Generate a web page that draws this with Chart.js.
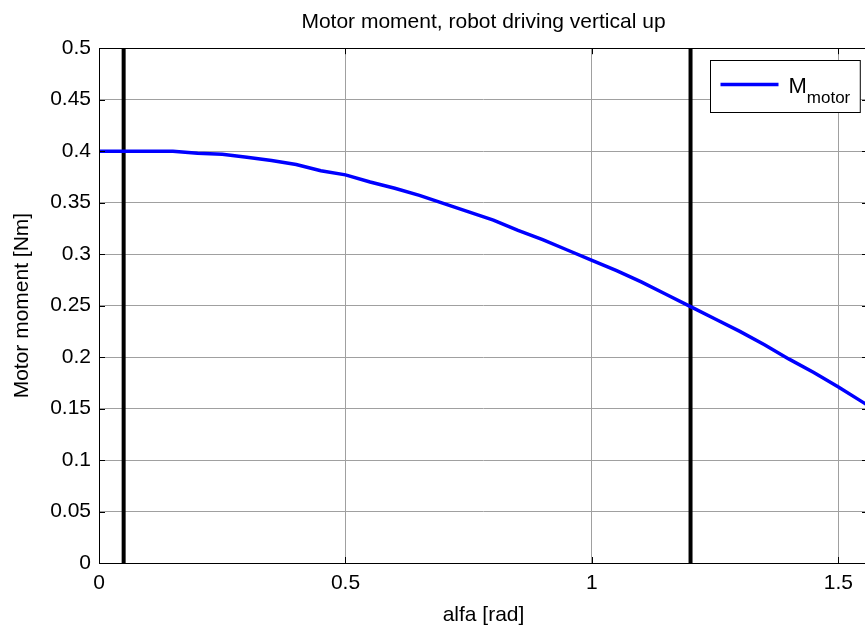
<!DOCTYPE html>
<html><head><meta charset="utf-8">
<script src="https://cdn.jsdelivr.net/npm/chart.js@4"></script>
<style>
html,body{margin:0;padding:0;background:#fff;overflow:hidden;width:865px;height:628px}
#wrap{position:absolute;left:0;top:0;width:875px;height:628px}
</style>
</head><body><div id="wrap"><canvas id="c"></canvas></div>
<script>
// ---- data ----
const alfa   = [0, 0.05, 0.10, 0.15, 0.20, 0.25, 0.30, 0.35, 0.40, 0.45, 0.50, 0.55, 0.60, 0.65, 0.70, 0.75, 0.80, 0.85, 0.90, 0.95, 1.00, 1.05, 1.10, 1.15, 1.20, 1.25, 1.30, 1.35, 1.40, 1.45, 1.50, 1.55, 1.5708];
const mMotor = [0.400, 0.400, 0.400, 0.400, 0.398, 0.397, 0.394, 0.391, 0.387, 0.381, 0.377, 0.370, 0.364, 0.357, 0.349, 0.341, 0.333, 0.323, 0.314, 0.304, 0.294, 0.284, 0.273, 0.261, 0.249, 0.237, 0.225, 0.212, 0.198, 0.185, 0.171, 0.156, 0.150];
const markerAlfa = [0.05, 1.2];
const xRange = [0, 1.56];
const yRange = [0, 0.5];
const xStep = 0.5;
const yStep = 0.05;
const titleText = 'Motor moment, robot driving vertical up';
const xLabel = 'alfa [rad]';
const yLabel = 'Motor moment [Nm]';
const legendMain = 'M';
const legendSub = 'motor';

const FONT = "'Liberation Sans', Arial, sans-serif";
Chart.defaults.font.family = FONT;
Chart.defaults.color = '#000';

const datasets = [{
  label: legendMain + legendSub,
  data: alfa.map((x, i) => ({x: x, y: mMotor[i]})),
  borderColor: '#0000ff', borderWidth: 3.5, pointRadius: 0, tension: 0, fill: false
}];
markerAlfa.forEach(m => datasets.push({
  label: 'marker',
  data: [{x: m, y: yRange[0]}, {x: m, y: yRange[1]}],
  borderColor: '#000', borderWidth: 4, pointRadius: 0, fill: false
}));

const fmt = v => String(+v.toFixed(2));

const frame = {
  id: 'frame',
  afterDatasetsDraw(chart) {
    const {ctx, chartArea: a, scales} = chart;
    ctx.save();
    ctx.strokeStyle = '#000'; ctx.lineWidth = 1;
    ctx.strokeRect(Math.round(a.left) + 0.5, Math.round(a.top) + 0.5, Math.round(a.right - a.left), Math.round(a.bottom - a.top));
    const tl = 6;
    ctx.beginPath();
    scales.y.ticks.forEach(t => {
      const y = Math.round(scales.y.getPixelForValue(t.value)) + 0.5;
      ctx.moveTo(a.left, y); ctx.lineTo(a.left + tl, y);
      ctx.moveTo(a.right, y); ctx.lineTo(a.right - tl, y);
    });
    scales.x.ticks.forEach(t => {
      const x = Math.round(scales.x.getPixelForValue(t.value)) + 0.5;
      ctx.moveTo(x, a.bottom); ctx.lineTo(x, a.bottom - tl);
      ctx.moveTo(x, a.top); ctx.lineTo(x, a.top + tl);
    });
    ctx.stroke();
    // legend
    ctx.font = '22px ' + FONT;
    const mw = ctx.measureText(legendMain).width;
    ctx.font = '17px ' + FONT;
    const sw = ctx.measureText(legendSub).width;
    const lineLen = 58;
    const lw = 10 + lineLen + 10 + mw + sw + 10;
    const lh = 52;
    const lx = Math.round(a.right - 8 - lw) + 0.5;
    const ly = Math.round(a.top + 12) + 0.5;
    ctx.fillStyle = '#fff';
    ctx.fillRect(lx, ly, lw, lh);
    ctx.strokeStyle = '#000'; ctx.lineWidth = 1;
    ctx.strokeRect(lx, ly, lw, lh);
    ctx.strokeStyle = '#0000ff'; ctx.lineWidth = 3.5;
    ctx.beginPath();
    ctx.moveTo(lx + 10, ly + 24); ctx.lineTo(lx + 10 + lineLen, ly + 24);
    ctx.stroke();
    ctx.fillStyle = '#000';
    ctx.textBaseline = 'alphabetic'; ctx.textAlign = 'left';
    ctx.font = '22px ' + FONT;
    ctx.fillText(legendMain, lx + 20 + lineLen, ly + 32);
    ctx.font = '17px ' + FONT;
    ctx.fillText(legendSub, lx + 20 + lineLen + mw, ly + 42);
    ctx.restore();
  }
};

new Chart(document.getElementById('c'), {
  type: 'line',
  data: {datasets},
  plugins: [frame],
  options: {
    responsive: true, maintainAspectRatio: false, animation: false,
    layout: {padding: {left: 0, right: 7, top: 0, bottom: 0}},
    plugins: {
      legend: {display: false},
      tooltip: {enabled: false},
      title: {display: true, text: titleText, fullSize: false, color: '#000',
        font: {size: 21, weight: 'normal'}, padding: {top: 10, bottom: 13}}
    },
    scales: {
      x: {
        type: 'linear', min: xRange[0], max: xRange[1],
        ticks: {stepSize: xStep, includeBounds: false, padding: 8, font: {size: 21}, color: '#000', maxRotation: 0,
          callback: fmt},
        grid: {color: '#a0a0a0', lineWidth: 1, drawTicks: false},
        border: {display: false},
        title: {display: true, text: xLabel, font: {size: 21}, color: '#000', padding: {top: 0, bottom: 0}},
        afterFit(s) { s.height = 65; }
      },
      y: {
        type: 'linear', min: yRange[0], max: yRange[1],
        ticks: {stepSize: yStep, padding: 8, font: {size: 21}, color: '#000', callback: fmt},
        grid: {color: '#a0a0a0', lineWidth: 1, drawTicks: false},
        border: {display: false},
        title: {display: true, text: yLabel, font: {size: 21}, color: '#000', padding: {top: 10, bottom: 0}},
        afterFit(s) { s.width = 99; }
      }
    }
  }
});
</script>
</body></html>
